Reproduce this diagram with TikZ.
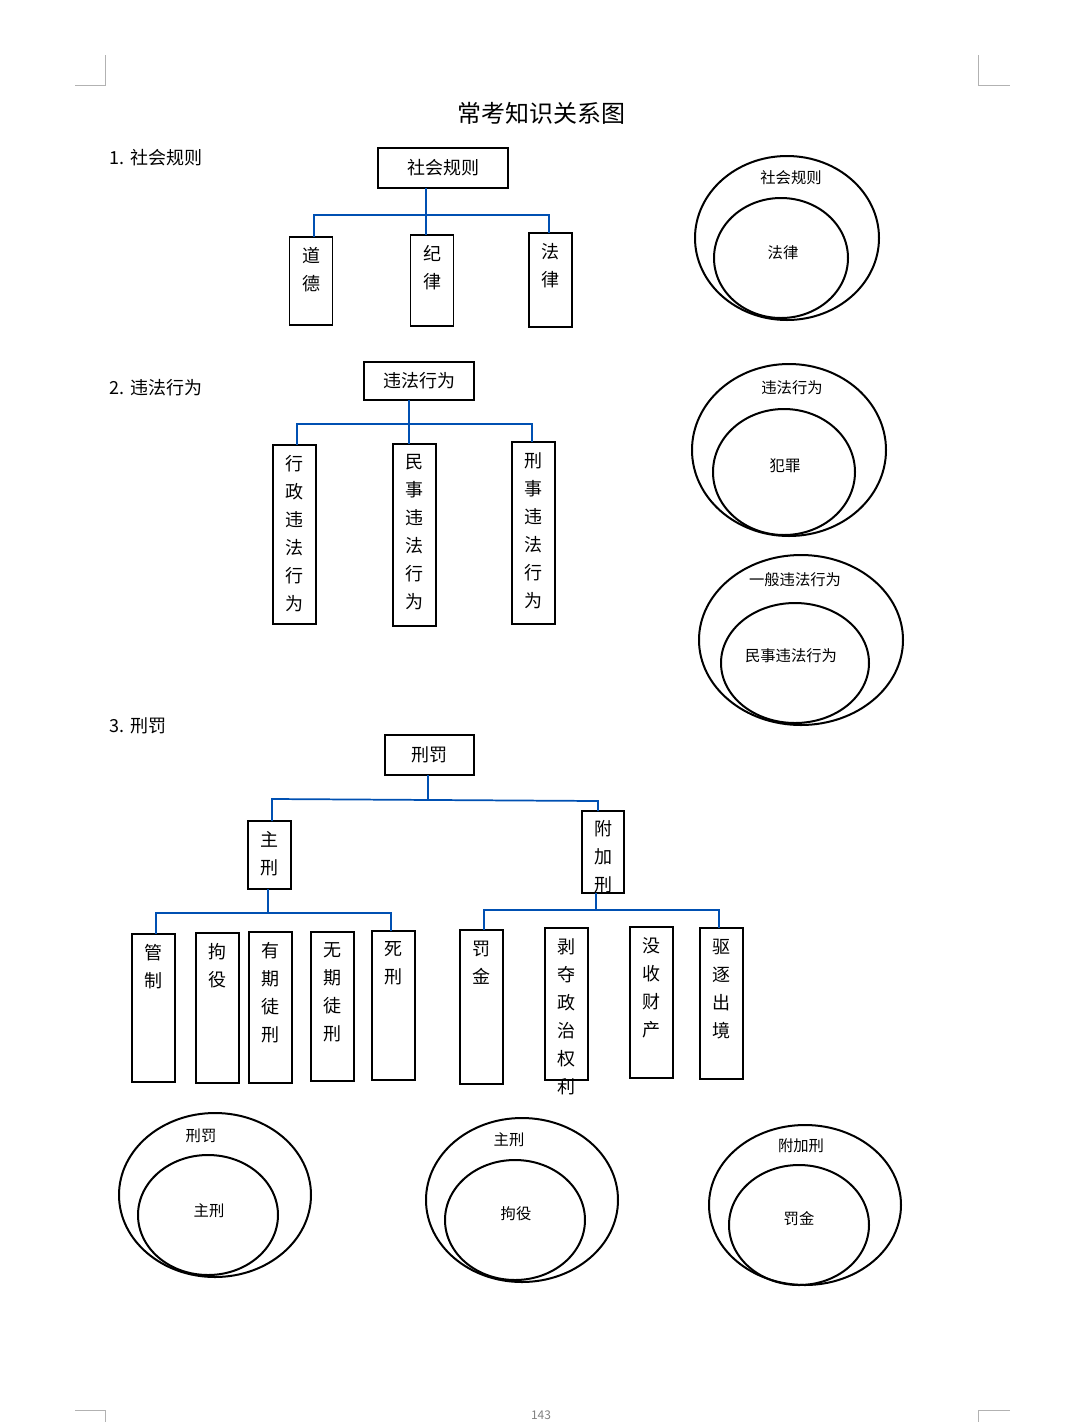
\documentclass[tikz,border=0pt]{standalone}
\usepackage{fontspec}
\setmainfont{Noto Sans CJK SC}
\begin{document}
\begin{tikzpicture}[x=0.75pt,y=-0.75pt,
  box/.style={draw,line width=1.3pt},
  conn/.style={draw=blue!55!cyan!70!black,line width=1.3pt},
  ell/.style={draw,line width=1.5pt},
  vt/.style={anchor=north,align=center,font=\fontsize{13.5}{21}\selectfont},
  ht/.style={font=\fontsize{13.5}{16}\selectfont},
  et/.style={font=\fontsize{11.5}{14}\selectfont},
  sec/.style={anchor=west,font=\fontsize{13.5}{16}\selectfont},
  cmark/.style={draw=gray!60,line width=0.6pt}]
\useasboundingbox (0,0) rectangle (1080,1422);
% corner marks
\draw[cmark] (75,85)--(105,85)--(105,55);
\draw[cmark] (978,55)--(978,85)--(1010,85);
\draw[cmark] (75,1410)--(105,1410)--(105,1422);
\draw[cmark] (1010,1410)--(978,1410)--(978,1422);
\node[font=\fontsize{9}{10}\selectfont,text=gray] (pg) at (541,1415) {143};
\node[font=\fontsize{18}{20}\selectfont] (title) at (541,113) {常考知识关系图};
% section 1
\node[sec] (s1) at (105,158) {1. 社会规则};
\node[box,ht,minimum width=97.5pt,minimum height=30pt] (r1) at (443,168) {社会规则};
\foreach \n/\x/\t/\b/\txt in {a/311/237/325/道\\德, b/432/235/326/纪\\律, c/550.5/233/327/法\\律}{
  \draw[box] (\x-21.5,\t) rectangle (\x+21.5,\b);
  \node[vt] (\n1) at (\x,\t+6) {\txt};
}
\coordinate (j1) at (426,215);
\draw[conn] (426,188)--(j1);
\draw[conn] (314,237)--(314,215)--(549,215)--(549,233);
\draw[conn] (426,215)--(426,235);
\draw[ell] (787,238) ellipse [x radius=92,y radius=82];
\draw[ell] (781,258) ellipse [x radius=67,y radius=60];
\node[et] (e1a) at (791,178) {社会规则};
\node[et] (e1b) at (783,253) {法律};
% section 2
\node[sec] (s2) at (105,388) {2. 违法行为};
\node[box,ht,minimum width=82.5pt,minimum height=28.5pt] (r2) at (419,381) {违法行为};
\foreach \n/\x/\t/\b/\txt in {a/294.5/445/624/行\\政\\违\\法\\行\\为, b/414.5/444/626/民\\事\\违\\法\\行\\为, c/533.5/442/624/刑\\事\\违\\法\\行\\为}{
  \draw[box] (\x-21.5,\t) rectangle (\x+21.5,\b);
  \node[vt] (\n2) at (\x,\t+6) {\txt};
}
\draw[conn] (409,400)--(409,444);
\draw[conn] (297,445)--(297,424)--(532,424)--(532,442);
\draw[ell] (789,450) ellipse [x radius=97,y radius=86];
\draw[ell] (784,472) ellipse [x radius=71,y radius=63];
\node[et] (e2a) at (792,388) {违法行为};
\node[et] (e2b) at (785,466) {犯罪};
\draw[ell] (801,640) ellipse [x radius=102,y radius=85];
\draw[ell] (795,663) ellipse [x radius=74,y radius=60];
\node[et] (e3a) at (795,580) {一般违法行为};
\node[et] (e3b) at (791,656) {民事违法行为};
% section 3
\node[sec] (s3) at (105,726) {3. 刑罚};
\node[box,ht,minimum width=66.75pt,minimum height=30pt] (r3) at (429.5,755) {刑罚};
\draw[box] (248,821) rectangle (291,889);
\node[vt] (zx) at (269.5,827) {主\\刑};
\draw[box] (582,811) rectangle (624,893);
\node[vt] (fj) at (603,816) {附\\加\\刑};
\draw[conn] (428,775)--(428,800);
\draw[conn] (272,821)--(272,799)--(598,801)--(598,811);
\foreach \n/\xa/\t/\b/\txt in {g/132/934/1082/管\\制, j/196/933/1083/拘\\役, y/249/932/1083/有\\期\\徒\\刑, w/311/932/1081/无\\期\\徒\\刑, s/372/931/1080/死\\刑,
  f/460/930/1084/罚\\金, b/545/928/1080/剥\\夺\\政\\治\\权\\利, m/630/927/1078/没\\收\\财\\产, q/700/928/1079/驱\\逐\\出\\境}{
  \draw[box] (\xa,\t) rectangle (\xa+43,\b);
  \node[vt] (\n3) at (\xa+21.5,\t+6) {\txt};
}
\draw[conn] (268,889)--(268,913);
\draw[conn] (156,934)--(156,913)--(391,913)--(391,931);
\draw[conn] (596,893)--(596,910);
\draw[conn] (484,930)--(484,910)--(719,910)--(719,928);
% bottom ellipses
\draw[ell] (215,1195) ellipse [x radius=96,y radius=82];
\draw[ell] (208,1215) ellipse [x radius=70,y radius=60];
\node[et] (b1a) at (201,1136) {刑罚};
\node[et] (b1b) at (209,1211) {主刑};
\draw[ell] (522,1200) ellipse [x radius=96,y radius=82];
\draw[ell] (515,1220) ellipse [x radius=70,y radius=60];
\node[et] (b2a) at (509,1140) {主刑};
\node[et] (b2b) at (516,1214) {拘役};
\draw[ell] (805,1205) ellipse [x radius=96,y radius=80];
\draw[ell] (799,1225) ellipse [x radius=70,y radius=60];
\node[et] (b3a) at (801,1146) {附加刑};
\node[et] (b3b) at (799,1219) {罚金};
\end{tikzpicture}
\end{document}
